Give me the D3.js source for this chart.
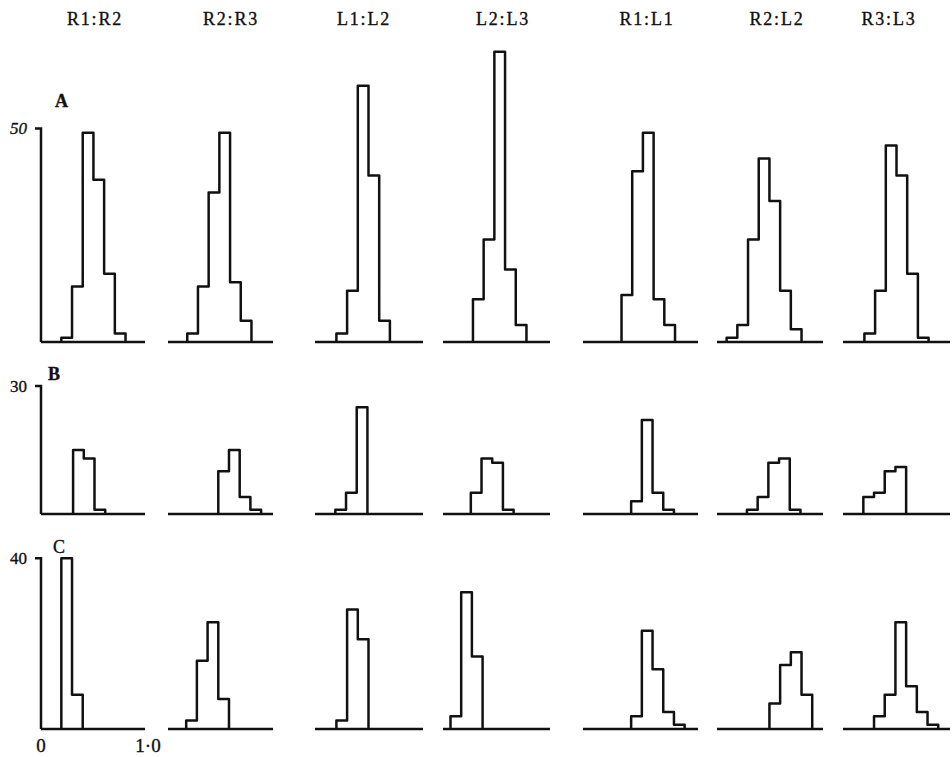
<!DOCTYPE html>
<html>
<head>
  <meta charset="utf-8">
  <title>Ratio histograms</title>
  <script src="https://cdn.jsdelivr.net/npm/d3@7"></script>
  <style>
    body { margin: 0; background: white; }
    text { font-family: "Liberation Serif", "DejaVu Serif", serif; fill: #111; stroke: #111; stroke-width: 0.35px; }
  </style>
</head>
<body>
<div id="chart"></div>
<script>
  // column headers and row letters
  var columns = ["R1:R2", "R2:R3", "L1:L2", "L2:L3", "R1:L1", "R2:L2", "R3:L3"];
  var rows = ["A", "B", "C"];
  var yTickValues = [50, 30, 40];
  var xTickLabels = ["0", "1\u00b70"];
  var binWidth = 0.1;

  // left edge of the first bin of each histogram (ratio units)
  var startsA = [0.19, 0.18, 0.20, 0.28, 0.36, 0.09, 0.20];
  var startsB = [0.30, 0.47, 0.19, 0.26, 0.45, 0.28, 0.19];
  var startsC = [0.19, 0.17, 0.20, 0.07, 0.45, 0.49, 0.29];

  // counts per bin
  var countsA = [
    [1, 13, 49, 38, 16, 2],
    [2, 13, 35, 49, 14, 5],
    [2, 12, 60, 39, 5],
    [10, 24, 68, 17, 4],
    [11, 40, 49, 10, 4],
    [1, 4, 24, 43, 33, 12, 3],
    [2, 12, 46, 39, 16, 1]
  ];
  var countsB = [
    [15, 13, 1],
    [10, 15, 4, 1],
    [1, 5, 25],
    [5, 13, 12, 1],
    [3, 22, 5, 1],
    [1, 4, 12, 13, 1],
    [4, 5, 10, 11]
  ];
  var countsC = [
    [40, 8],
    [2, 16, 25, 7],
    [2, 28, 21],
    [3, 32, 17],
    [3, 23, 14, 4, 1],
    [6, 15, 18, 8],
    [3, 8, 25, 10, 4, 1]
  ];

  var starts = [startsA, startsB, startsC];
  var counts = [countsA, countsB, countsC];

  // layout
  var width = 952, height = 757;
  var colLeft = [41, 168, 315, 443, 583, 717, 843];
  var colCenter = [95, 231, 364, 503, 647, 777, 889];
  var baseLen = [104, 105, 108, 107, 115, 106, 107];
  var pxPerUnit = 107;
  var rowBase = [342, 514, 729];
  var pxPerCount = 4.27;
  var rowLabelPos = [[55, 107], [48, 380], [53, 553]];

  var svg = d3.select("#chart")
    .append("svg")
    .attr("width", width)
    .attr("height", height)
    .style("display", "block")
    .style("background", "white");

  // column titles
  svg.selectAll(".colTitle")
    .data(columns)
    .enter()
    .append("text")
    .attr("class", "colTitle")
    .attr("x", function(d, i){ return colCenter[i]; })
    .attr("y", 25)
    .attr("text-anchor", "middle")
    .style("font-size", "18px")
    .style("letter-spacing", "1.8px")
    .text(function(d){ return d; });

  var stepLine = d3.line().curve(d3.curveStepAfter);

  rows.forEach(function(rowName, r) {
    var y = d3.scaleLinear()
      .domain([0, yTickValues[r]])
      .range([rowBase[r], rowBase[r] - yTickValues[r] * pxPerCount]);

    // row letter
    svg.append("text")
      .attr("x", rowLabelPos[r][0])
      .attr("y", rowLabelPos[r][1])
      .style("font-size", "18px")
      .style("font-weight", r < 2 ? "bold" : "normal")
      .text(rowName);

    // y axis on the first column only
    var axisG = svg.append("g")
      .attr("transform", "translate(" + colLeft[0] + ",0)")
      .call(d3.axisLeft(y).tickValues([yTickValues[r]]).tickSize(6).tickPadding(5));
    axisG.select(".domain")
      .attr("d", "M0," + y(0) + "V" + y(yTickValues[r]) + "H-6")
      .attr("stroke", "#111")
      .attr("stroke-width", 2.5);
    axisG.selectAll(".tick line").remove();
    axisG.selectAll(".tick text")
      .attr("x", -14)
      .style("font-size", "17px")
      .style("font-family", "'Liberation Serif', serif")
      .style("font-style", r === 0 ? "italic" : "normal")
      .attr("fill", "#111");

    columns.forEach(function(col, c) {
      var x = d3.scaleLinear()
        .domain([0, 1])
        .range([colLeft[c], colLeft[c] + pxPerUnit]);

      // baseline
      svg.append("line")
        .attr("x1", colLeft[c])
        .attr("x2", colLeft[c] + baseLen[c])
        .attr("y1", y(0))
        .attr("y2", y(0))
        .attr("stroke", "#111")
        .attr("stroke-width", 2.6);

      var s = starts[r][c];
      var vals = counts[r][c];
      var pts = [[s, 0]];
      vals.forEach(function(v, i){ pts.push([s + i * binWidth, v]); });
      pts.push([s + vals.length * binWidth, 0]);

      svg.append("path")
        .datum(pts)
        .attr("d", stepLine.x(function(d){ return x(d[0]); }).y(function(d){ return y(d[1]); }))
        .attr("fill", "none")
        .attr("stroke", "#111")
        .attr("stroke-width", 2.5)
        .attr("stroke-linejoin", "round");

      // x labels under the first panel of the last row
      if (r === 2 && c === 0) {
        svg.selectAll(".xLab")
          .data(xTickLabels)
          .enter()
          .append("text")
          .attr("class", "xLab")
          .attr("x", function(d, i){ return x(i); })
          .attr("y", 752)
          .attr("text-anchor", "middle")
          .style("font-size", "19px")
          .text(function(d){ return d; });
      }
    });
  });
</script>
</body>
</html>
